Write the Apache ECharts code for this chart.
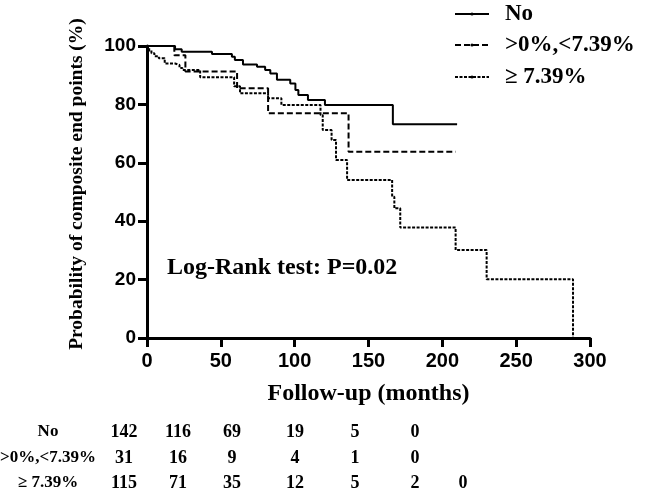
<!DOCTYPE html>
<html>
<head>
<meta charset="utf-8">
<script src="https://cdn.jsdelivr.net/npm/echarts@6/dist/echarts.min.js"></script>
<style>
html,body{margin:0;padding:0;background:#fff;}
#c{width:648px;height:494px;}
</style>
</head>
<body>
<div id="c"></div>
<script>
// ---- data ----
const seriesNames = ['No', '>0%,<7.39%', '\u2265 7.39%'];

const timeNo = [0, 19, 23.5, 44, 57.5, 59.5, 65, 74.5, 80, 83.5, 88, 97, 100.5, 102.5, 109, 120.5, 166.5, 210];
const survNo = [100, 98.9, 98.0, 97.3, 96.3, 95.2, 93.7, 92.9, 91.8, 90.6, 88.4, 87.2, 84.9, 83.2, 81.5, 79.8, 73.2, 73.2];

const timeMid = [0, 18.5, 26, 61, 82, 136.5, 209];
const survMid = [100, 96.8, 91.3, 85.5, 77.0, 63.8, 63.8];

const timeHigh = [0, 1.5, 3, 5, 8, 12, 19, 22, 24, 36, 59, 63, 82, 91, 117.5, 119, 125, 128, 135.5, 166, 167.5, 171.5, 209, 230, 288.5];
const survHigh = [100, 98.5, 97.5, 96.5, 95.8, 94.0, 93.5, 92.5, 91.8, 89.3, 86.2, 83.8, 82.1, 79.8, 76.4, 71.2, 67.8, 61.0, 54.1, 48.4, 44.4, 37.8, 30.1, 20.1, 0];

const xTicks = [0, 50, 100, 150, 200, 250, 300];
const yTicks = [0, 20, 40, 60, 80, 100];

const riskRowLabels = ['No', '>0%,<7.39%', '\u2265 7.39%'];
const riskNo = [142, 116, 69, 19, 5, 0];
const riskMid = [31, 16, 9, 4, 1, 0];
const riskHigh = [115, 71, 35, 12, 5, 2, 0];

const annotation = 'Log-Rank test: P=0.02';
const xTitle = 'Follow-up (months)';
const yTitle = 'Probability of composite end points (%)';

// ---- layout / style ----
const serif = '"Liberation Serif", "Times New Roman", serif';
const sans = '"Liberation Sans", Arial, sans-serif';
const riskColX = [124, 178, 232, 295, 355, 415, 463];
const riskRowY = [432, 458, 483];
const riskLabelX = 48;
const legendRowY = [14, 45, 77];
const legendLineX = [455, 489];
const legendTextX = 505;
const dashes = [null, [6, 3], [3, 1.5]];

function pairs(t, v) { return t.map((x, i) => [x, v[i]]); }

const graphics = [];
// annotation
graphics.push({
  type: 'text', x: 167, y: 268,
  style: { text: annotation, font: 'bold 24px ' + serif, fill: '#000', textAlign: 'left', textVerticalAlign: 'middle' }
});
// y title
graphics.push({
  type: 'text', x: 77, y: 184, rotation: Math.PI / 2,
  style: { text: yTitle, font: 'bold 19.5px ' + serif, fill: '#000', textAlign: 'center', textVerticalAlign: 'middle' }
});
// legend (drawn manually)
seriesNames.forEach((nm, i) => {
  graphics.push({
    type: 'line',
    shape: { x1: legendLineX[0], y1: legendRowY[i], x2: legendLineX[1], y2: legendRowY[i] },
    style: { stroke: '#000', lineWidth: 2, lineDash: dashes[i] || null }
  });
  graphics.push({
    type: 'circle',
    shape: { cx: (legendLineX[0] + legendLineX[1]) / 2, cy: legendRowY[i], r: 1.6 },
    style: { fill: '#000' }
  });
  graphics.push({
    type: 'text', x: legendTextX, y: legendRowY[i],
    style: { text: nm, font: 'bold 23px ' + serif, fill: '#000', textAlign: 'left', textVerticalAlign: 'middle' }
  });
});
// numbers at risk
[riskNo, riskMid, riskHigh].forEach((row, r) => {
  graphics.push({
    type: 'text', x: riskLabelX, y: riskRowY[r],
    style: { text: riskRowLabels[r], font: 'bold 17px ' + serif, fill: '#000', textAlign: 'center', textVerticalAlign: 'middle' }
  });
  row.forEach((n, c) => {
    graphics.push({
      type: 'text', x: riskColX[c], y: riskRowY[r],
      style: { text: String(n), font: 'bold 18px ' + serif, fill: '#000', textAlign: 'center', textVerticalAlign: 'middle' }
    });
  });
});

const chart = echarts.init(document.getElementById('c'), null, { renderer: 'canvas' });
chart.setOption({
  animation: false,
  backgroundColor: '#fff',
  grid: { left: 147, right: 58, top: 46, bottom: 156, containLabel: false },
  xAxis: {
    type: 'value', min: 0, max: 300, interval: 50,
    name: xTitle, nameLocation: 'middle', nameGap: 44,
    nameTextStyle: { fontFamily: serif, fontWeight: 'bold', fontSize: 24, color: '#000' },
    axisLine: { lineStyle: { color: '#000', width: 3 } },
    axisTick: { length: 9, lineStyle: { color: '#000', width: 3 } },
    axisLabel: { fontFamily: sans, fontWeight: 'bold', fontSize: 20, color: '#000', margin: 13 },
    splitLine: { show: false }
  },
  yAxis: {
    type: 'value', min: 0, max: 100, interval: 20,
    axisLine: { show: true, lineStyle: { color: '#000', width: 3 } },
    axisTick: { show: true, length: 9, lineStyle: { color: '#000', width: 3 } },
    axisLabel: { fontFamily: sans, fontWeight: 'bold', fontSize: 19, color: '#000', margin: 11 },
    splitLine: { show: false }
  },
  series: [
    { name: seriesNames[0], type: 'line', step: 'end', symbol: 'none', data: pairs(timeNo, survNo),
      lineStyle: { color: '#000', width: 2, type: 'solid' }, itemStyle: { color: '#000' } },
    { name: seriesNames[1], type: 'line', step: 'end', symbol: 'none', data: pairs(timeMid, survMid),
      lineStyle: { color: '#000', width: 2, type: dashes[1] }, itemStyle: { color: '#000' } },
    { name: seriesNames[2], type: 'line', step: 'end', symbol: 'none', data: pairs(timeHigh, survHigh),
      lineStyle: { color: '#000', width: 2, type: dashes[2] }, itemStyle: { color: '#000' } }
  ],
  graphic: graphics
});
</script>
</body>
</html>
